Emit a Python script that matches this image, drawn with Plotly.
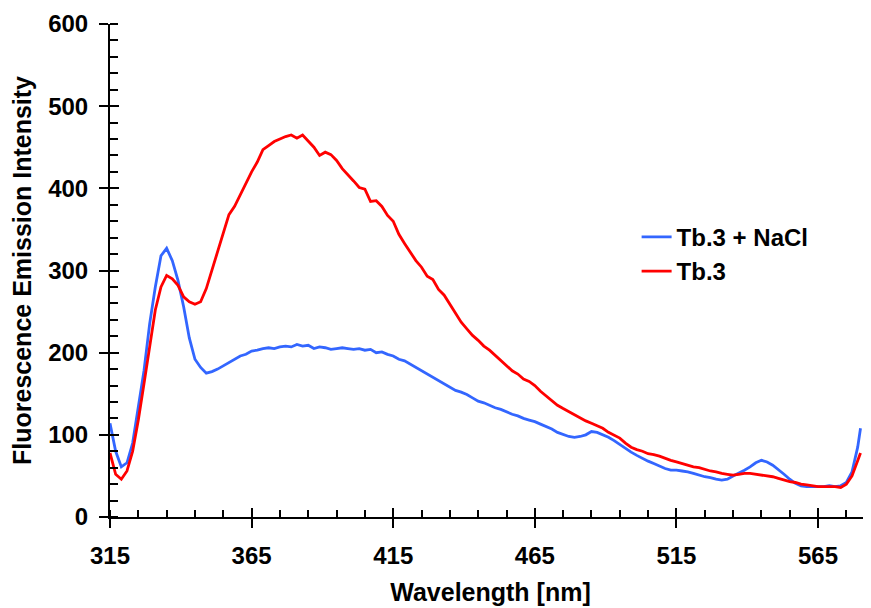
import plotly.graph_objects as go

wavelength = [315, 317, 319, 321, 323, 325, 327, 329, 331, 333, 335, 337, 339, 341, 343, 345, 347, 349,
              351, 353, 355, 357, 359, 361, 363, 365, 367, 369, 371, 373, 375, 377, 379, 381, 383, 385,
              387, 389, 391, 393, 395, 397, 399, 401, 403, 405, 407, 409, 411, 413, 415, 417, 419, 421,
              423, 425, 427, 429, 431, 433, 435, 437, 439, 441, 443, 445, 447, 449, 451, 453, 455, 457,
              459, 461, 463, 465, 467, 469, 471, 473, 475, 477, 479, 481, 483, 485, 487, 489, 491, 493,
              495, 497, 499, 501, 503, 505, 507, 509, 511, 513, 515, 517, 519, 521, 523, 525, 527, 529,
              531, 533, 535, 537, 539, 541, 543, 545, 547, 549, 551, 553, 555, 557, 559, 561, 563, 565,
              567, 569, 571, 573, 575, 577, 579, 580]

tb3_nacl = [114, 80, 61, 66, 90, 135, 178, 235, 280, 318, 327, 312, 288, 256, 218, 192, 182, 175,
            177, 180, 184, 188, 192, 196, 198, 202, 203, 205, 206, 205, 207, 208, 207, 210, 208, 209,
            205, 207, 206, 204, 205, 206, 205, 204, 205, 203, 204, 200, 201, 198, 196, 192, 190, 186,
            182, 178, 175, 170, 166, 162, 158, 154, 152, 149, 145, 141, 139, 136, 133, 131, 128, 125,
            123, 120, 118, 116, 113, 110, 107, 103, 100, 98, 97, 98, 100, 104, 103, 100, 97, 93,
            88, 84, 79, 75, 71, 68, 65, 62, 59, 57, 57, 56, 55, 53, 51, 49, 48, 46,
            45, 46, 50, 53, 57, 61, 66, 69, 67, 63, 58, 52, 46, 41, 38, 37, 37, 37,
            37, 38, 37, 38, 42, 55, 85, 108]

tb3 = [78, 52, 46, 56, 80, 118, 162, 210, 252, 280, 294, 290, 282, 268, 262, 259, 262, 278,
       300, 323, 345, 368, 378, 392, 407, 420, 432, 447, 452, 457, 460, 463, 465, 461, 465, 457,
       450, 440, 444, 441, 434, 424, 417, 409, 401, 399, 384, 385, 378, 367, 360, 344, 333, 323,
       312, 304, 293, 289, 277, 270, 259, 249, 237, 229, 221, 215, 208, 203, 197, 190, 184, 178,
       174, 168, 165, 160, 153, 147, 141, 136, 132, 128, 124, 120, 117, 114, 111, 108, 103, 99,
       96, 90, 85, 82, 80, 77, 76, 74, 71, 69, 67, 65, 63, 61, 60, 58, 56, 55,
       53, 52, 51, 52, 53, 53, 52, 51, 50, 49, 47, 45, 43, 42, 40, 39, 38, 37,
       37, 37, 37, 36, 40, 50, 68, 78]

x_ticks = [315, 365, 415, 465, 515, 565]
y_ticks = [0, 100, 200, 300, 400, 500, 600]

FONT = "Liberation Sans, Arial, sans-serif"
XR = [315, 583.7]
YR = [0, 600]

fig = go.Figure()
fig.add_trace(go.Scatter(x=wavelength, y=tb3_nacl, mode="lines", name="Tb.3 + NaCl",
                         line=dict(color="#3366FF", width=2.8)))
fig.add_trace(go.Scatter(x=wavelength, y=tb3, mode="lines", name="Tb.3",
                         line=dict(color="#FF0000", width=2.8)))
# invisible trace on overlay axes (for inner half of crossing major ticks)
fig.add_trace(go.Scatter(x=[None], y=[None], xaxis="x2", yaxis="y2", showlegend=False,
                         hoverinfo="skip"))

# page body has an 8px default margin, so the figure is sized/offset to compensate
fig.update_layout(
    width=863, height=600,
    margin=dict(l=102, r=0, t=16, b=91),
    paper_bgcolor="white", plot_bgcolor="white",
    font=dict(family=FONT, size=24, color="black", weight="bold"),
    showlegend=True,
    legend=dict(x=0.692, y=0.613, xanchor="left", yanchor="top",
                font=dict(family=FONT, size=24, color="black", weight="bold"),
                bgcolor="rgba(0,0,0,0)", tracegroupgap=0, itemwidth=30),
    xaxis=dict(range=XR, tickmode="array", tickvals=x_ticks, ticktext=[str(v) for v in x_ticks],
               automargin=False,
               showline=True, linecolor="black", linewidth=2,
               ticks="outside", ticklen=9, tickwidth=2, tickcolor="black",
               showgrid=False, zeroline=False,
               tickfont=dict(family=FONT, size=24, weight="bold"),
               ticklabelstandoff=7,
               minor=dict(tick0=315, dtick=10, ticks="inside", ticklen=7, tickwidth=2,
                          tickcolor="black", showgrid=False),
               title=dict(text="Wavelength [nm]", standoff=16,
                          font=dict(family=FONT, size=25, weight="bold"))),
    yaxis=dict(range=YR, tickmode="array", tickvals=y_ticks, ticktext=[str(v) for v in y_ticks],
               automargin=False,
               showline=True, linecolor="black", linewidth=2,
               ticks="outside", ticklen=9, tickwidth=2, tickcolor="black",
               showgrid=False, zeroline=False,
               tickfont=dict(family=FONT, size=24, weight="bold"),
               ticklabelstandoff=6,
               minor=dict(tick0=0, dtick=20, ticks="inside", ticklen=8, tickwidth=2,
                          tickcolor="black", showgrid=False),
               title=dict(text="Fluorescence Emission Intensity", standoff=10,
                          font=dict(family=FONT, size=25, weight="bold"))),
    xaxis2=dict(range=XR, overlaying="x", anchor="y", side="bottom", showline=False,
                automargin=False,
                tickmode="array", tickvals=x_ticks, ticks="inside", ticklen=9, tickwidth=2,
                tickcolor="black", showticklabels=False, showgrid=False, zeroline=False),
    yaxis2=dict(range=YR, overlaying="y", anchor="x", side="left", showline=False,
                automargin=False,
                tickmode="array", tickvals=y_ticks, ticks="inside", ticklen=9, tickwidth=2,
                tickcolor="black", showticklabels=False, showgrid=False, zeroline=False),
)

fig.write_html("out.html")
